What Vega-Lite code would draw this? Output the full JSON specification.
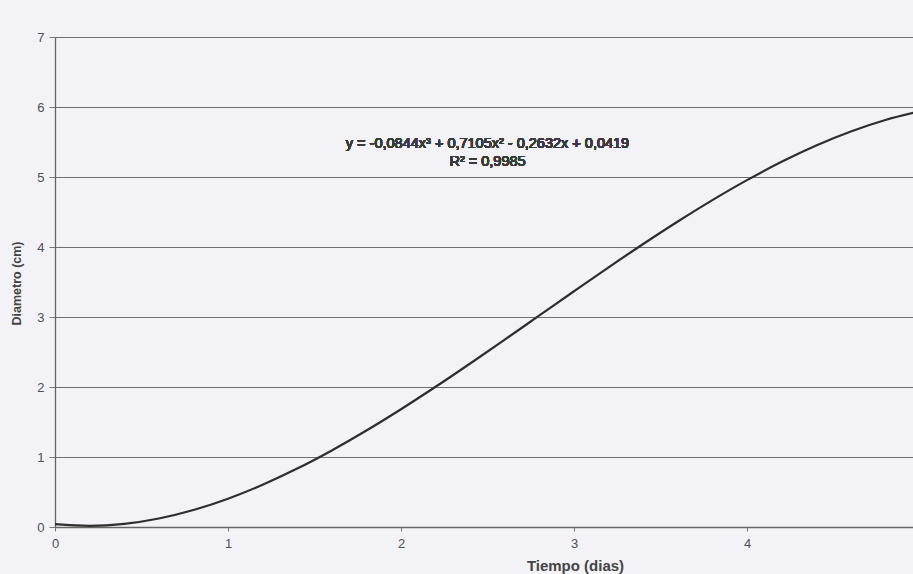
{
  "$schema": "https://vega.github.io/schema/vega-lite/v6.json",
  "autosize": "none",
  "width": 865,
  "height": 490,
  "padding": {"left": 55, "top": 37, "right": 0, "bottom": 47},
  "background": "#f3f3f7",
  "config": {
    "view": {"stroke": null},
    "font": "Arial"
  },
  "data": {
    "values": [
      {"t": 0.0, "d": 0.0419},
      {"t": 0.2, "d": 0.0174},
      {"t": 0.4, "d": 0.0449},
      {"t": 0.6, "d": 0.1215},
      {"t": 0.8, "d": 0.2429},
      {"t": 1.0, "d": 0.4048},
      {"t": 1.2, "d": 0.6033},
      {"t": 1.4, "d": 0.8344},
      {"t": 1.6, "d": 1.0940},
      {"t": 1.8, "d": 1.3779},
      {"t": 2.0, "d": 1.6823},
      {"t": 2.2, "d": 2.0030},
      {"t": 2.4, "d": 2.3360},
      {"t": 2.6, "d": 2.6772},
      {"t": 2.8, "d": 3.0225},
      {"t": 3.0, "d": 3.3680},
      {"t": 3.2, "d": 3.7096},
      {"t": 3.4, "d": 4.0431},
      {"t": 3.6, "d": 4.3647},
      {"t": 3.8, "d": 4.6702},
      {"t": 4.0, "d": 4.9555},
      {"t": 4.2, "d": 5.2167},
      {"t": 4.4, "d": 5.4496},
      {"t": 4.6, "d": 5.6502},
      {"t": 4.8, "d": 5.8145},
      {"t": 5.0, "d": 5.9384}
    ]
  },
  "layer": [
    {
      "mark": {"type": "line", "color": "#2e2e2e", "strokeWidth": 2.2, "interpolate": "monotone", "clip": true},
      "encoding": {
        "x": {
          "field": "t", "type": "quantitative",
          "scale": {"domain": [0, 5], "nice": false, "zero": false},
          "axis": {
            "values": [0, 1, 2, 3, 4],
            "format": "d",
            "grid": false,
            "title": "Tiempo (dias)",
            "titleFont": "Arial",
            "titleFontSize": 15,
            "titleFontWeight": "bold",
            "titleColor": "#444444",
            "titleX": 520,
            "titleY": 43,
            "titleBaseline": "alphabetic",
            "titleAnchor": null,
            "titleAlign": "center",
            "labelFont": "Arial",
            "labelFontSize": 13,
            "labelColor": "#505050",
            "labelPadding": 6,
            "labelFlush": false,
            "tickSize": 4,
            "tickColor": "#777777",
            "domainColor": "#666666",
            "domainWidth": 1.3
          }
        },
        "y": {
          "field": "d", "type": "quantitative",
          "scale": {"domain": [0, 7], "nice": false},
          "axis": {
            "values": [0, 1, 2, 3, 4, 5, 6, 7],
            "format": "d",
            "grid": true,
            "gridColor": "#6f6f6f",
            "gridWidth": 1.2,
            "title": "Diametro (cm)",
            "titleFont": "Arial",
            "titleFontSize": 12.5,
            "titleFontWeight": "bold",
            "titleColor": "#444444",
            "titleAngle": 270,
            "titleX": -39,
            "titleY": 246,
            "titleAlign": "center",
            "titleBaseline": "middle",
            "labelFont": "Arial",
            "labelFontSize": 13,
            "labelColor": "#505050",
            "labelPadding": 5,
            "tickSize": 6,
            "tickColor": "#777777",
            "domainColor": "#666666",
            "domainWidth": 1.3
          }
        }
      }
    },
    {
      "mark": {
        "type": "text",
        "text": ["y = -0,0844x³ + 0,7105x² - 0,2632x + 0,0419", "R² = 0,9985"],
        "font": "Arial",
        "fontSize": 14.5,
        "fontWeight": "normal",
        "color": "#3a3a3a",
        "align": "center",
        "baseline": "middle",
        "lineHeight": 18
      },
      "encoding": {
        "x": {"datum": 2.5},
        "y": {"datum": 5.47}
      }
    }
  ]
}
